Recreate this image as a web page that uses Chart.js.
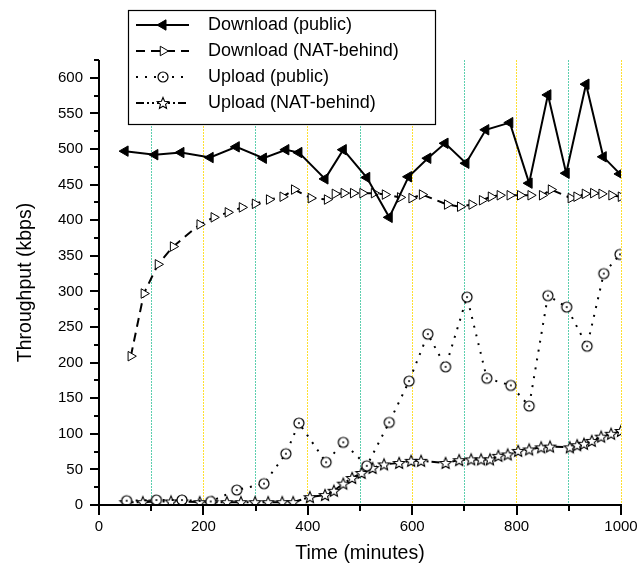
<!DOCTYPE html>
<html>
<head>
<meta charset="utf-8">
<script src="https://cdn.jsdelivr.net/npm/chart.js@4.4.0/dist/chart.umd.min.js"></script>
<style>
  html, body { margin: 0; padding: 0; background: #fff; }
  #wrap { width: 637px; height: 571px; }
</style>
</head>
<body>
<div id="wrap"><canvas id="tput"></canvas></div>
<script>
// valores (minutos / kbps)
const dlPublicX = [50, 107, 157, 213, 263, 315, 358, 383, 433, 468, 513, 556, 593, 630, 663, 703, 741, 787, 824, 860, 895, 933, 966, 998];
const dlPublicY = [497, 492, 495, 488, 503, 487, 499, 495, 458, 499, 460, 404, 461, 487, 508, 480, 527, 537, 452, 576, 466, 591, 489, 465];

const dlNatX = [61, 86, 113, 142, 193, 220, 247, 274, 299, 326, 352, 374, 406, 437, 452, 469, 487, 505, 527, 548, 577, 599, 619,
  667, 692, 714, 734, 751, 768, 787, 807, 827, 849, 866, 904, 915, 931, 947, 963, 982, 1000];
const dlNatY = [209, 297, 338, 363, 394, 404, 411, 418, 423, 429, 433, 443, 431, 429, 437, 438, 438, 438, 438, 436, 432, 431, 436,
  422, 419, 422, 428, 433, 435, 435, 435, 435, 435, 443, 431, 433, 437, 438, 437, 435, 433];

const ulPublicX = [53, 110, 159, 214, 264, 316, 358, 383, 435, 468, 513, 556, 594, 630, 664, 705, 743, 789, 824, 860, 896, 935, 967, 998];
const ulPublicY = [6, 7, 7, 5, 21, 30, 72, 115, 60, 88, 55, 116, 174, 240, 194, 292, 178, 168, 139, 294, 278, 223, 325, 352];

const ulNatX = [51, 84, 107, 138, 159, 193, 217, 245, 272, 299, 324, 351, 372, 404, 433, 450, 468, 485, 503, 524, 546, 575, 598, 617,
  664, 690, 713, 732, 749, 765, 783, 803, 824, 847, 864, 902, 916, 929, 944, 962, 981, 1000];
const ulNatY = [4, 4, 5, 5, 5, 4, 4, 4, 4, 4, 4, 4, 4, 11, 14, 20, 30, 38, 45, 52, 57, 59, 62, 62,
  59, 63, 64, 64, 64, 69, 71, 76, 78, 81, 82, 81, 84, 86, 90, 96, 100, 104];

const seriesNames = ['Download (public)', 'Download (NAT-behind)', 'Upload (public)', 'Upload (NAT-behind)'];
const xTickLabels = [0, 200, 400, 600, 800, 1000];
const yTickLabels = [0, 50, 100, 150, 200, 250, 300, 350, 400, 450, 500, 550, 600];

const FONT = '"Liberation Sans", Arial, Helvetica, sans-serif';
const TEAL = '#5ccfae';
const YELLOW = '#ffe030';

const pts = (xs, ys) => xs.map((x, i) => ({ x, y: ys[i] }));

// marcadores a mano: estrella de 5 puntas y circulo con punto
function makeStar(r) {
  const c = document.createElement('canvas');
  const s = Math.ceil(r * 2 + 4);
  c.width = s; c.height = s;
  const g = c.getContext('2d');
  g.translate(s / 2, s / 2 + 0.5);
  g.beginPath();
  for (let i = 0; i < 10; i++) {
    const rr = i % 2 === 0 ? r : r * 0.45;
    const a = -Math.PI / 2 + i * Math.PI / 5;
    g.lineTo(Math.cos(a) * rr, Math.sin(a) * rr);
  }
  g.closePath();
  g.fillStyle = '#fff'; g.fill();
  g.lineWidth = 1.1; g.strokeStyle = '#000'; g.stroke();
  return c;
}
function makeRing(r) {
  const c = document.createElement('canvas');
  const s = Math.ceil(r * 2 + 4);
  c.width = s; c.height = s;
  const g = c.getContext('2d');
  g.translate(s / 2, s / 2);
  g.beginPath(); g.arc(0, 0, r, 0, Math.PI * 2);
  g.fillStyle = '#fff'; g.fill();
  g.lineWidth = 1.2; g.strokeStyle = '#000'; g.stroke();
  g.beginPath(); g.arc(0, 0, 1, 0, Math.PI * 2);
  g.fillStyle = '#000'; g.fill();
  return c;
}
const starImg = makeStar(6);
const ringImg = makeRing(5);

const axisPlugin = {
  id: 'axisTicks',
  afterDatasetsDraw(chart) {
    const { ctx, chartArea: a, scales: { x, y } } = chart;
    ctx.save();
    ctx.strokeStyle = '#000';
    ctx.lineWidth = 2;
    ctx.beginPath();
    ctx.moveTo(a.left, a.top);
    ctx.lineTo(a.left, a.bottom);
    ctx.lineTo(a.right + 1, a.bottom);
    ctx.stroke();
    ctx.beginPath();
    for (let v = 0; v <= 1000; v += 100) {
      const px = Math.round(x.getPixelForValue(v));
      ctx.moveTo(px, a.bottom);
      ctx.lineTo(px, a.bottom + (v % 200 === 0 ? 10 : 6));
    }
    for (let v = 0; v <= 625; v += 25) {
      const py = Math.round(y.getPixelForValue(v));
      ctx.moveTo(a.left, py);
      ctx.lineTo(a.left - (v % 50 === 0 ? 9 : 5), py);
    }
    ctx.stroke();
    ctx.restore();
  }
};

const legendPlugin = {
  id: 'boxLegend',
  afterDraw(chart) {
    const { ctx } = chart;
    const left = 128, top = 10, w = 307, h = 114;
    ctx.save();
    ctx.fillStyle = '#fff';
    ctx.fillRect(left, top, w, h);
    ctx.strokeStyle = '#000';
    ctx.lineWidth = 1.2;
    ctx.strokeRect(left + 0.5, top + 0.5, w, h);
    ctx.font = '18px ' + FONT;
    ctx.textBaseline = 'middle';
    chart.data.datasets.forEach((ds, i) => {
      const cy = top + 15 + i * 26;
      ctx.save();
      ctx.strokeStyle = '#000';
      ctx.lineWidth = 2;
      ctx.setLineDash(ds.borderDash || []);
      ctx.beginPath();
      ctx.moveTo(136, cy);
      ctx.lineTo(189, cy);
      ctx.stroke();
      ctx.restore();
      ctx.save();
      ctx.fillStyle = ds.pointBackgroundColor || '#fff';
      ctx.strokeStyle = '#000';
      ctx.lineWidth = 1;
      Chart.helpers.drawPoint(ctx, {
        pointStyle: ds.pointStyle,
        rotation: ds.pointRotation || 0,
        radius: ds.pointRadius,
        borderWidth: 1
      }, 163, cy);
      ctx.restore();
      ctx.fillStyle = '#000';
      ctx.fillText(ds.label, 208, cy);
    });
    ctx.restore();
  }
};

new Chart(document.getElementById('tput'), {
  type: 'line',
  data: {
    datasets: [
      {
        label: seriesNames[0],
        data: pts(dlPublicX, dlPublicY),
        borderColor: '#000', borderWidth: 2,
        pointStyle: 'triangle', pointRotation: 270, pointRadius: 6,
        pointBackgroundColor: '#000', pointBorderColor: '#000', pointBorderWidth: 1
      },
      {
        label: seriesNames[1],
        data: pts(dlNatX, dlNatY),
        borderColor: '#000', borderWidth: 2, borderDash: [9, 6],
        pointStyle: 'triangle', pointRotation: 90, pointRadius: 5.5,
        pointBackgroundColor: '#fff', pointBorderColor: '#000', pointBorderWidth: 1
      },
      {
        label: seriesNames[2],
        data: pts(ulPublicX, ulPublicY),
        borderColor: '#000', borderWidth: 2, borderDash: [2, 7],
        pointStyle: ringImg, pointRadius: 5
      },
      {
        label: seriesNames[3],
        data: pts(ulNatX, ulNatY),
        borderColor: '#000', borderWidth: 2, borderDash: [8, 3, 2, 3, 2, 3],
        pointStyle: starImg, pointRadius: 6
      }
    ]
  },
  options: {
    responsive: true,
    maintainAspectRatio: false,
    animation: false,
    layout: { padding: { left: 0, top: 60, right: 16, bottom: 0 } },
    elements: { line: { tension: 0, fill: false } },
    plugins: { legend: { display: false }, tooltip: { enabled: false } },
    scales: {
      x: {
        type: 'linear', min: 0, max: 1000,
        afterFit: s => { s.height = 66; s.paddingLeft = 0; s.paddingRight = 0; },
        border: { display: false, dash: [2, 1] },
        grid: {
          drawTicks: false,
          lineWidth: 1,
          color: c => c.tick.value === 0 ? 'rgba(0,0,0,0)' : (c.tick.value % 200 === 0 ? YELLOW : TEAL)
        },
        ticks: {
          stepSize: 100, autoSkip: false, maxRotation: 0, padding: 13,
          color: '#000', font: { family: FONT, size: 15 },
          callback: v => xTickLabels.includes(v) ? String(v) : ''
        },
        title: {
          display: true, text: 'Time (minutes)', color: '#000',
          font: { family: FONT, size: 19.5 }, padding: { top: 0, bottom: 6 }
        }
      },
      y: {
        type: 'linear', min: 0, max: 625,
        afterFit: s => { s.width = 99; s.paddingTop = 0; s.paddingBottom = 0; },
        border: { display: false },
        grid: { display: false, drawTicks: false },
        ticks: {
          stepSize: 25, autoSkip: false, padding: 16,
          color: '#000', font: { family: FONT, size: 15 },
          callback: v => yTickLabels.includes(v) ? String(v) : ''
        },
        title: {
          display: true, text: 'Throughput (kbps)', color: '#000',
          font: { family: FONT, size: 19.5 }, padding: { top: 14, bottom: 0 }
        }
      }
    }
  },
  plugins: [axisPlugin, legendPlugin]
});
</script>
</body>
</html>
